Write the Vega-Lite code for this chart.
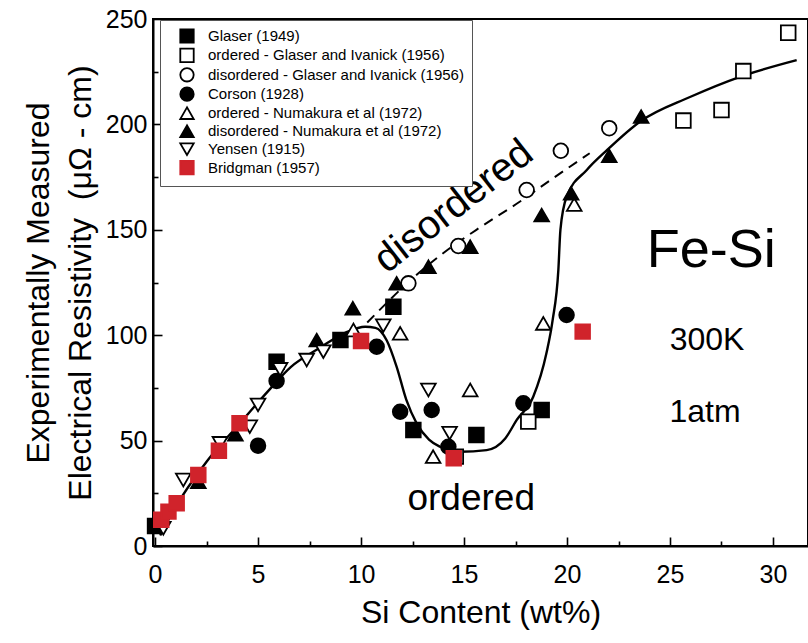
{
  "$schema": "https://vega.github.io/schema/vega-lite/v6.json",
  "autosize": {"type": "none"},
  "width": 655,
  "height": 527,
  "padding": {"left": 153, "top": 19, "right": 0, "bottom": 97},
  "background": "white",
  "config": {
    "font": "Liberation Sans",
    "view": {"stroke": "black", "strokeWidth": 2},
    "axis": {
      "domainColor": "black",
      "domainWidth": 2,
      "tickColor": "black",
      "tickWidth": 1.6,
      "labelColor": "black",
      "labelFont": "Liberation Sans",
      "labelFontSize": 25,
      "titleFont": "Liberation Sans",
      "titleFontSize": 32,
      "titleFontWeight": "normal",
      "titleColor": "black",
      "grid": false
    }
  },
  "datasets": {
    "curve": [
      {"si": 0.25, "rho": 5}, {"si": 0.9, "rho": 17}, {"si": 2.5, "rho": 40},
      {"si": 4.1, "rho": 58}, {"si": 5.4, "rho": 72.5}, {"si": 6.6, "rho": 85},
      {"si": 8.0, "rho": 94}, {"si": 9.3, "rho": 101.5}, {"si": 10.2, "rho": 104},
      {"si": 10.7, "rho": 103.5}, {"si": 11.25, "rho": 97.5}, {"si": 11.73, "rho": 85},
      {"si": 12.2, "rho": 69.3}, {"si": 12.7, "rho": 58.2}, {"si": 13.3, "rho": 50.5},
      {"si": 13.83, "rho": 47.1}, {"si": 14.8, "rho": 44.7}, {"si": 16.1, "rho": 45.5},
      {"si": 17.0, "rho": 51}, {"si": 17.56, "rho": 59.8}, {"si": 18.36, "rho": 70.8},
      {"si": 19.0, "rho": 91.4}, {"si": 19.3, "rho": 107}, {"si": 19.58, "rho": 131},
      {"si": 19.68, "rho": 150}, {"si": 19.98, "rho": 165.7}, {"si": 20.96, "rho": 178.4},
      {"si": 21.95, "rho": 187.9}, {"si": 23.54, "rho": 201.3}, {"si": 25.97, "rho": 213},
      {"si": 28.4, "rho": 222.6}, {"si": 31.15, "rho": 230.5}
    ],
    "dashed": [
      {"si": 10.3, "rho": 106}, {"si": 12.6, "rho": 127.8}, {"si": 14.08, "rho": 139.6},
      {"si": 15.6, "rho": 150}, {"si": 17.7, "rho": 163.3}, {"si": 19.2, "rho": 173.6},
      {"si": 21.1, "rho": 186.3}
    ],
    "measurements": [
      {"series": "Glaser (1949)", "si": 0.0, "rho": 9.5},
      {"series": "Glaser (1949)", "si": 5.9, "rho": 87.4},
      {"series": "Glaser (1949)", "si": 9.0, "rho": 97.7},
      {"series": "Glaser (1949)", "si": 11.57, "rho": 113.5},
      {"series": "Glaser (1949)", "si": 12.54, "rho": 55},
      {"series": "Glaser (1949)", "si": 15.6, "rho": 52.7},
      {"series": "Glaser (1949)", "si": 18.77, "rho": 64.5},

      {"series": "ordered - Glaser and Ivanick (1956)", "si": 14.6, "rho": 42.4},
      {"series": "ordered - Glaser and Ivanick (1956)", "si": 18.12, "rho": 59},
      {"series": "ordered - Glaser and Ivanick (1956)", "si": 25.65, "rho": 201.8},
      {"series": "ordered - Glaser and Ivanick (1956)", "si": 27.5, "rho": 206.8},
      {"series": "ordered - Glaser and Ivanick (1956)", "si": 28.56, "rho": 225.3},
      {"series": "ordered - Glaser and Ivanick (1956)", "si": 30.74, "rho": 243.5},

      {"series": "disordered - Glaser and Ivanick (1956)", "si": 12.3, "rho": 124.6},
      {"series": "disordered - Glaser and Ivanick (1956)", "si": 14.72, "rho": 142.3},
      {"series": "disordered - Glaser and Ivanick (1956)", "si": 18.04, "rho": 168.9},
      {"series": "disordered - Glaser and Ivanick (1956)", "si": 19.7, "rho": 187.5},
      {"series": "disordered - Glaser and Ivanick (1956)", "si": 22.05, "rho": 198.2},

      {"series": "Corson (1928)", "si": 5.0, "rho": 47.6},
      {"series": "Corson (1928)", "si": 5.9, "rho": 78.3},
      {"series": "Corson (1928)", "si": 10.76, "rho": 94.5},
      {"series": "Corson (1928)", "si": 11.9, "rho": 63.7},
      {"series": "Corson (1928)", "si": 13.43, "rho": 64.5},
      {"series": "Corson (1928)", "si": 14.24, "rho": 47.1},
      {"series": "Corson (1928)", "si": 17.88, "rho": 67.7},
      {"series": "Corson (1928)", "si": 19.98, "rho": 109.6},

      {"series": "ordered - Numakura et al (1972)", "si": 9.63, "rho": 102.5},
      {"series": "ordered - Numakura et al (1972)", "si": 11.9, "rho": 100.9},
      {"series": "ordered - Numakura et al (1972)", "si": 13.5, "rho": 42.4},
      {"series": "ordered - Numakura et al (1972)", "si": 15.3, "rho": 74},
      {"series": "ordered - Numakura et al (1972)", "si": 18.85, "rho": 105.6},
      {"series": "ordered - Numakura et al (1972)", "si": 20.35, "rho": 162},

      {"series": "disordered - Numakura et al (1972)", "si": 2.1, "rho": 30.5},
      {"series": "disordered - Numakura et al (1972)", "si": 3.9, "rho": 53},
      {"series": "disordered - Numakura et al (1972)", "si": 7.85, "rho": 97.7},
      {"series": "disordered - Numakura et al (1972)", "si": 9.6, "rho": 112.8},
      {"series": "disordered - Numakura et al (1972)", "si": 11.73, "rho": 124.6},
      {"series": "disordered - Numakura et al (1972)", "si": 13.27, "rho": 132.5},
      {"series": "disordered - Numakura et al (1972)", "si": 15.3, "rho": 142},
      {"series": "disordered - Numakura et al (1972)", "si": 18.77, "rho": 157},
      {"series": "disordered - Numakura et al (1972)", "si": 20.2, "rho": 167.3},
      {"series": "disordered - Numakura et al (1972)", "si": 22.05, "rho": 185.1},
      {"series": "disordered - Numakura et al (1972)", "si": 23.6, "rho": 203.7},

      {"series": "Yensen (1915)", "si": 0.4, "rho": 8.4},
      {"series": "Yensen (1915)", "si": 1.37, "rho": 31.3},
      {"series": "Yensen (1915)", "si": 3.15, "rho": 48.7},
      {"series": "Yensen (1915)", "si": 4.6, "rho": 56.6},
      {"series": "Yensen (1915)", "si": 5.0, "rho": 66.9},
      {"series": "Yensen (1915)", "si": 6.07, "rho": 83.8},
      {"series": "Yensen (1915)", "si": 7.36, "rho": 88.2},
      {"series": "Yensen (1915)", "si": 8.17, "rho": 92.2},
      {"series": "Yensen (1915)", "si": 11.08, "rho": 104.5},
      {"series": "Yensen (1915)", "si": 13.27, "rho": 74},
      {"series": "Yensen (1915)", "si": 14.3, "rho": 53.5},

      {"series": "Bridgman (1957)", "si": 0.3, "rho": 12.5},
      {"series": "Bridgman (1957)", "si": 0.65, "rho": 16.3},
      {"series": "Bridgman (1957)", "si": 1.05, "rho": 20.3},
      {"series": "Bridgman (1957)", "si": 2.1, "rho": 33.7},
      {"series": "Bridgman (1957)", "si": 3.1, "rho": 45.2},
      {"series": "Bridgman (1957)", "si": 4.1, "rho": 58.2},
      {"series": "Bridgman (1957)", "si": 10.0, "rho": 97.2},
      {"series": "Bridgman (1957)", "si": 14.5, "rho": 41.6},
      {"series": "Bridgman (1957)", "si": 20.76, "rho": 101.7}
    ]
  },
  "layer": [
    {
      "data": {"name": "curve"},
      "mark": {"type": "line", "color": "black", "strokeWidth": 2.4, "interpolate": "monotone"},
      "encoding": {
        "x": {
          "field": "si", "type": "quantitative",
          "scale": {"domain": [-0.1, 31.7], "nice": false, "zero": false},
          "axis": {
            "title": "Si Content (wt%)",
            "values": [0, 2.5, 5, 7.5, 10, 12.5, 15, 17.5, 20, 22.5, 25, 27.5, 30],
            "labelExpr": "datum.value % 5 === 0 ? format(datum.value, 'd') : ''",
            "tickSize": {"condition": {"test": "datum.value % 5 === 0", "value": -9}, "value": -5},
            "labelPadding": 25,
            "titlePadding": 10,
            "labelFlush": false
          }
        },
        "y": {
          "field": "rho", "type": "quantitative",
          "scale": {"domain": [0, 250], "nice": false},
          "axis": {
            "title": ["Experimentally Measured", "Electrical Resistivity\u00a0\u00a0(μΩ - cm)"],
            "titleLineHeight": 42,
            "values": [0, 25, 50, 75, 100, 125, 150, 175, 200, 225, 250],
            "labelExpr": "datum.value % 50 === 0 ? format(datum.value, 'd') : ''",
            "tickSize": {"condition": {"test": "datum.value % 50 === 0", "value": -9}, "value": -5},
            "labelPadding": 15,
            "titlePadding": 8,
            "labelFlush": false
          }
        }
      }
    },
    {
      "data": {"name": "dashed"},
      "mark": {"type": "line", "color": "black", "strokeWidth": 2, "strokeDash": [10, 7], "interpolate": "monotone"},
      "encoding": {
        "x": {"field": "si", "type": "quantitative"},
        "y": {"field": "rho", "type": "quantitative"}
      }
    },
    {
      "data": {"name": "measurements"},
      "mark": {"type": "point", "filled": true, "size": 215, "strokeWidth": 1.8, "opacity": 1},
      "encoding": {
        "x": {"field": "si", "type": "quantitative"},
        "y": {"field": "rho", "type": "quantitative"},
        "shape": {
          "field": "series", "type": "nominal",
          "scale": {
            "domain": ["Glaser (1949)", "ordered - Glaser and Ivanick (1956)", "disordered - Glaser and Ivanick (1956)", "Corson (1928)", "ordered - Numakura et al (1972)", "disordered - Numakura et al (1972)", "Yensen (1915)", "Bridgman (1957)"],
            "range": ["square", "square", "circle", "circle", "triangle-up", "triangle-up", "triangle-down", "square"]
          },
          "legend": {
            "title": null,
            "orient": "none",
            "legendX": 7,
            "legendY": 1,
            "fillColor": "white",
            "strokeColor": "#555555",
            "padding": 8,
            "symbolOffset": 11,
            "symbolSize": 180,
            "symbolStrokeWidth": 1.8,
            "labelFont": "Liberation Sans",
            "labelFontSize": 15,
            "labelColor": "black",
            "labelOffset": 13,
            "rowPadding": -2.6,
            "labelLimit": 400
          }
        },
        "fill": {
          "field": "series", "type": "nominal",
          "scale": {
            "domain": ["Glaser (1949)", "ordered - Glaser and Ivanick (1956)", "disordered - Glaser and Ivanick (1956)", "Corson (1928)", "ordered - Numakura et al (1972)", "disordered - Numakura et al (1972)", "Yensen (1915)", "Bridgman (1957)"],
            "range": ["black", "white", "white", "black", "white", "black", "white", "#d0232b"]
          }
        },
        "stroke": {
          "field": "series", "type": "nominal",
          "scale": {
            "domain": ["Glaser (1949)", "ordered - Glaser and Ivanick (1956)", "disordered - Glaser and Ivanick (1956)", "Corson (1928)", "ordered - Numakura et al (1972)", "disordered - Numakura et al (1972)", "Yensen (1915)", "Bridgman (1957)"],
            "range": ["black", "black", "black", "black", "black", "black", "black", "#d0232b"]
          }
        }
      }
    },
    {
      "data": {"values": [{"si": 14.5, "rho": 161, "label": "disordered"}]},
      "mark": {"type": "text", "font": "Liberation Sans", "fontSize": 40, "angle": -38, "align": "center", "baseline": "middle", "color": "black"},
      "encoding": {
        "x": {"field": "si", "type": "quantitative"},
        "y": {"field": "rho", "type": "quantitative"},
        "text": {"field": "label"}
      }
    },
    {
      "data": {"values": [{"si": 15.35, "rho": 17, "label": "ordered"}]},
      "mark": {"type": "text", "font": "Liberation Sans", "fontSize": 37, "align": "center", "baseline": "alphabetic", "color": "black"},
      "encoding": {
        "x": {"field": "si", "type": "quantitative"},
        "y": {"field": "rho", "type": "quantitative"},
        "text": {"field": "label"}
      }
    },
    {
      "data": {"values": [{"si": 27.0, "rho": 132.4, "label": "Fe-Si"}]},
      "mark": {"type": "text", "font": "Liberation Sans", "fontSize": 54, "align": "center", "baseline": "alphabetic", "color": "black"},
      "encoding": {
        "x": {"field": "si", "type": "quantitative"},
        "y": {"field": "rho", "type": "quantitative"},
        "text": {"field": "label"}
      }
    },
    {
      "data": {"values": [{"si": 26.8, "rho": 93, "label": "300K"}, {"si": 26.7, "rho": 58.8, "label": "1atm"}]},
      "mark": {"type": "text", "font": "Liberation Sans", "fontSize": 32, "align": "center", "baseline": "alphabetic", "color": "black"},
      "encoding": {
        "x": {"field": "si", "type": "quantitative"},
        "y": {"field": "rho", "type": "quantitative"},
        "text": {"field": "label"}
      }
    }
  ]
}
